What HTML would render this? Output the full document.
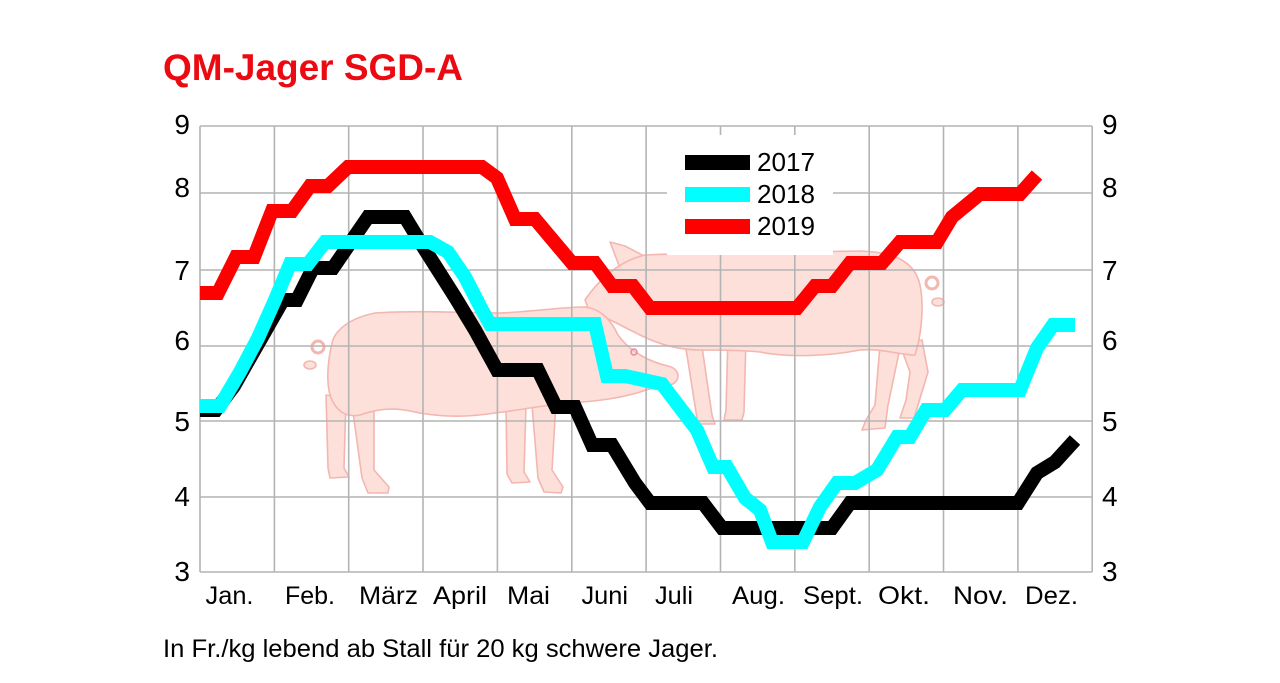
<!DOCTYPE html>
<html>
<head>
<meta charset="utf-8">
<style>
  html,body{margin:0;padding:0;background:#fff;}
  svg{display:block;}
  text{font-family:"Liberation Sans", "DejaVu Sans", sans-serif;}
</style>
</head>
<body>
<svg width="1280" height="683" viewBox="0 0 1280 683" xmlns="http://www.w3.org/2000/svg">
  <rect x="0" y="0" width="1280" height="683" fill="#ffffff"/>

  <!-- Title -->
  <text x="163" y="80" font-size="37" font-weight="bold" fill="#ec0a12" textLength="300" lengthAdjust="spacingAndGlyphs">QM-Jager SGD-A</text>

  <!-- Pigs (background) -->
  <g fill="#fce0d9" stroke="#f4b6b1" stroke-width="1.6" stroke-linejoin="round">
    <!-- Pig 2 (right, behind) -->
    <path d="M 610,242 L 625,246 L 648,258 L 638,276 L 620,268 Z"/>
    <path d="M 683,330 L 700,333 L 712,415 L 715,424 L 698,424 L 696,412 Z"/>
    <path d="M 728,335 L 746,338 L 744,412 L 742,420 L 724,420 L 726,410 Z"/>
    <path d="M 880,345 L 900,348 L 888,405 L 885,428 L 862,430 L 866,420 L 875,405 Z"/>
    <path d="M 900,345 L 922,340 L 928,372 L 918,405 L 914,418 L 900,418 L 906,400 L 910,372 Z"/>
    <path d="M 585,300 C 595,285 615,262 645,255 C 720,252 800,252 860,251 C 895,252 915,262 920,285 C 925,310 920,340 915,355 C 900,355 880,348 860,350 C 830,356 790,358 760,352 C 740,350 720,350 700,350 C 680,350 660,345 640,335 C 620,325 600,315 588,308 Z"/>
    <circle cx="932" cy="283" r="6" fill="none" stroke-width="3"/>
    <ellipse cx="938" cy="302" rx="6" ry="4"/>

    <!-- Pig 1 (left, front) -->
    <path d="M 326,395 L 346,398 L 344,468 L 349,477 L 330,478 L 328,468 Z"/>
    <path d="M 352,405 L 374,408 L 374,470 L 389,487 L 388,493 L 368,493 L 362,478 Z"/>
    <path d="M 506,405 L 526,405 L 524,472 L 530,482 L 512,483 L 507,474 Z"/>
    <path d="M 532,405 L 556,402 L 552,470 L 563,487 L 561,493 L 544,492 L 538,478 Z"/>
    <path d="M 332,343 C 335,330 350,318 375,313 C 420,310 470,313 500,313 C 530,312 560,307 585,307 C 600,309 610,318 618,335 C 630,352 650,362 668,366 C 678,368 682,378 673,384 C 660,387 650,388 640,392 C 620,398 600,401 570,403 C 545,405 520,410 495,413 C 470,417 440,418 410,411 C 395,408 380,408 360,415 C 345,418 335,410 330,395 C 326,380 328,360 332,343 Z"/>
    <circle cx="318" cy="347" r="6" fill="none" stroke-width="3"/>
    <ellipse cx="310" cy="365" rx="6" ry="4"/>
    <circle cx="634" cy="352" r="3" fill="none" stroke="#e58aa0" stroke-width="1.5"/>
  </g>

  <!-- Grid -->
  <g stroke="#b4b4b4" stroke-width="1.6" fill="none">
    <line x1="200" y1="126" x2="1092" y2="126"/>
    <line x1="200" y1="193" x2="1092" y2="193"/>
    <line x1="200" y1="270" x2="1092" y2="270"/>
    <line x1="200" y1="346" x2="1092" y2="346"/>
    <line x1="200" y1="421" x2="1092" y2="421"/>
    <line x1="200" y1="497" x2="1092" y2="497"/>
    <line x1="200" y1="572" x2="1092" y2="572"/>
    <line x1="200" y1="126" x2="200" y2="572"/>
    <line x1="274.4" y1="126" x2="274.4" y2="572"/>
    <line x1="348.7" y1="126" x2="348.7" y2="572"/>
    <line x1="423" y1="126" x2="423" y2="572"/>
    <line x1="497.4" y1="126" x2="497.4" y2="572"/>
    <line x1="571.8" y1="126" x2="571.8" y2="572"/>
    <line x1="646.1" y1="126" x2="646.1" y2="572"/>
    <line x1="720.5" y1="126" x2="720.5" y2="572"/>
    <line x1="794.8" y1="126" x2="794.8" y2="572"/>
    <line x1="869.2" y1="126" x2="869.2" y2="572"/>
    <line x1="943.5" y1="126" x2="943.5" y2="572"/>
    <line x1="1017.9" y1="126" x2="1017.9" y2="572"/>
    <line x1="1092.2" y1="126" x2="1092.2" y2="572"/>
  </g>

  <!-- Legend box -->
  <rect x="667" y="135" width="166" height="120" fill="#ffffff"/>

  <!-- Series -->
  <g fill="none" stroke-width="14" stroke-linejoin="miter" stroke-miterlimit="4" stroke-linecap="butt">
    <polyline stroke="#000000" points="200,410 216,410 234,386 283,300 297,300 313,268 333,268 368,217 405,217 422,245 455,297 475,330 497,370 538,370 556,407 575,407 592,445 612,445 635,483 650,503 703,503 722,528 832,528 850,503 1018,503 1037,473 1055,462 1075,440"/>
    <polyline stroke="#00ffff" points="200,406 220,406 240,372 258,338 275,300 290,264 308,264 325,242 430,242 448,252 465,277 482,310 490,324 595,324 607,376 625,376 662,384 697,430 713,467 727,467 745,498 760,510 772,542 803,542 820,507 837,483 855,483 877,470 897,437 910,437 926,410 945,410 962,390 1020,390 1037,348 1053,325 1075,325"/>
    <polyline stroke="#ff0000" points="200,293 218,293 236,257 254,257 272,211 292,211 310,186 328,186 348,167 482,167 497,178 515,219 535,219 572,263 595,263 612,286 633,286 650,308 797,308 815,286 832,286 850,263 882,263 900,242 937,242 952,217 980,194 1020,194 1037,175"/>
  </g>

  <!-- Legend -->
  <rect x="685" y="155" width="65" height="15" fill="#000000"/>
  <rect x="685" y="187" width="65" height="15" fill="#00ffff"/>
  <rect x="685" y="219" width="65" height="15" fill="#ff0000"/>
  <g font-size="26" fill="#000">
    <text x="757" y="171" textLength="58" lengthAdjust="spacingAndGlyphs">2017</text>
    <text x="757" y="203" textLength="58" lengthAdjust="spacingAndGlyphs">2018</text>
    <text x="757" y="235" textLength="58" lengthAdjust="spacingAndGlyphs">2019</text>
  </g>

  <!-- Y axis labels left -->
  <g font-size="28" fill="#000" text-anchor="end">
    <text x="190" y="134">9</text>
    <text x="190" y="197">8</text>
    <text x="190" y="280">7</text>
    <text x="190" y="350">6</text>
    <text x="190" y="431">5</text>
    <text x="190" y="506">4</text>
    <text x="190" y="581">3</text>
  </g>
  <!-- Y axis labels right -->
  <g font-size="28" fill="#000" text-anchor="start">
    <text x="1102" y="134">9</text>
    <text x="1102" y="197">8</text>
    <text x="1102" y="280">7</text>
    <text x="1102" y="350">6</text>
    <text x="1102" y="431">5</text>
    <text x="1102" y="506">4</text>
    <text x="1102" y="581">3</text>
  </g>

  <!-- Month labels -->
  <g font-size="25" fill="#000">
    <text x="205.5" y="604" textLength="48" lengthAdjust="spacingAndGlyphs">Jan.</text>
    <text x="285" y="604" textLength="50" lengthAdjust="spacingAndGlyphs">Feb.</text>
    <text x="359" y="604" textLength="59" lengthAdjust="spacingAndGlyphs">März</text>
    <text x="433" y="604" textLength="54" lengthAdjust="spacingAndGlyphs">April</text>
    <text x="507" y="604" textLength="43" lengthAdjust="spacingAndGlyphs">Mai</text>
    <text x="581.5" y="604" textLength="46.5" lengthAdjust="spacingAndGlyphs">Juni</text>
    <text x="655" y="604" textLength="38" lengthAdjust="spacingAndGlyphs">Juli</text>
    <text x="732" y="604" textLength="53" lengthAdjust="spacingAndGlyphs">Aug.</text>
    <text x="803" y="604" textLength="60" lengthAdjust="spacingAndGlyphs">Sept.</text>
    <text x="878" y="604" textLength="52" lengthAdjust="spacingAndGlyphs">Okt.</text>
    <text x="953" y="604" textLength="55" lengthAdjust="spacingAndGlyphs">Nov.</text>
    <text x="1025" y="604" textLength="53" lengthAdjust="spacingAndGlyphs">Dez.</text>
  </g>

  <!-- Caption -->
  <text x="163" y="657" font-size="25" fill="#000" textLength="555" lengthAdjust="spacingAndGlyphs">In Fr./kg lebend ab Stall für 20 kg schwere Jager.</text>
</svg>
</body>
</html>
